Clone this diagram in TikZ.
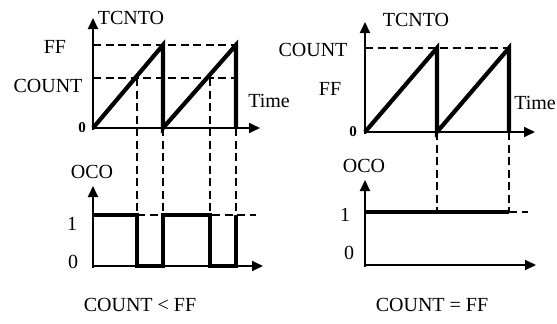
\documentclass[tikz,border=0pt]{standalone}
\usepackage{fontspec}
\setmainfont{Liberation Serif}
\usetikzlibrary{arrows.meta}
\begin{document}
\begin{tikzpicture}[x=1pt,y=-1pt,
  axis/.style={line width=2pt,-{Triangle[length=11pt,width=10pt]}},
  sig/.style={line width=4.2pt,line join=miter},
  guide/.style={line width=1.8pt,dash pattern=on 8pt off 4.5pt},
  lbl/.style={font=\fontsize{20}{20}\selectfont,inner sep=0pt},
  zero/.style={font=\fontsize{15}{15}\selectfont\bfseries,inner sep=0pt}]
\useasboundingbox (0,0) rectangle (557,324);
% ---------- left top ----------
\draw[guide] (93,45) -- (236,45);
\draw[guide] (93,78) -- (236,78);
\draw[guide] (137,78) -- (137,215);
\draw[guide] (163,128) -- (163,215);
\draw[guide] (210,78) -- (210,215);
\draw[guide] (236,128) -- (236,215);
\draw[axis] (93,130) -- (93,18);
\draw[axis] (93,128) -- (260,128);
\draw[sig] (93,128) -- (163,45) -- (163,128) -- (236,45) -- (236,128);
\node[lbl] (t1) at (131,18) {TCNTO};
\node[lbl] (ff1) at (55,47) {FF};
\node[lbl] (c1) at (48,86) {COUNT};
\node[zero] (z1) at (82,128) {0};
\node[lbl] (time1) at (269,101) {Time};
% ---------- left bottom ----------
\draw[guide] (137,215) -- (256,215);
\draw[axis] (93,268) -- (93,186);
\draw[axis] (93,266) -- (263,266);
\draw[sig] (93,215) -- (137,215) -- (137,266) -- (163,266) -- (163,215) -- (210,215) -- (210,266) -- (236,266) -- (236,215);
\node[lbl] (oco1) at (92,172) {OCO};
\node[lbl] (one1) at (72,224) {1};
\node[lbl] (zz1) at (73,262) {0};
\node[lbl] (cap1) at (140,305) {COUNT < FF};
% ---------- right top ----------
\draw[guide] (365,48) -- (509,48);
\draw[guide] (437,132) -- (437,212);
\draw[guide] (509,132) -- (509,212);
\draw[axis] (365,134) -- (365,22);
\draw[axis] (365,132) -- (535,132);
\draw[sig] (365,132) -- (437,48) -- (437,132) -- (509,48) -- (509,132);
\node[lbl] (t2) at (416,20) {TCNTO};
\node[lbl] (c2) at (313,50) {COUNT};
\node[lbl] (ff2) at (330,89) {FF};
\node[zero] (z2) at (353,132) {0};
\node[lbl] (time2) at (535,103) {Time};
% ---------- right bottom ----------
\draw[guide] (509,212) -- (528,212);
\draw[axis] (365,267) -- (365,180);
\draw[axis] (365,265) -- (536,265);
\draw[sig] (365,212) -- (509,212);
\node[lbl] (oco2) at (364,166) {OCO};
\node[lbl] (one2) at (345,215) {1};
\node[lbl] (zz2) at (349,253) {0};
\node[lbl] (cap2) at (432,305) {COUNT = FF};
\end{tikzpicture}
\end{document}
